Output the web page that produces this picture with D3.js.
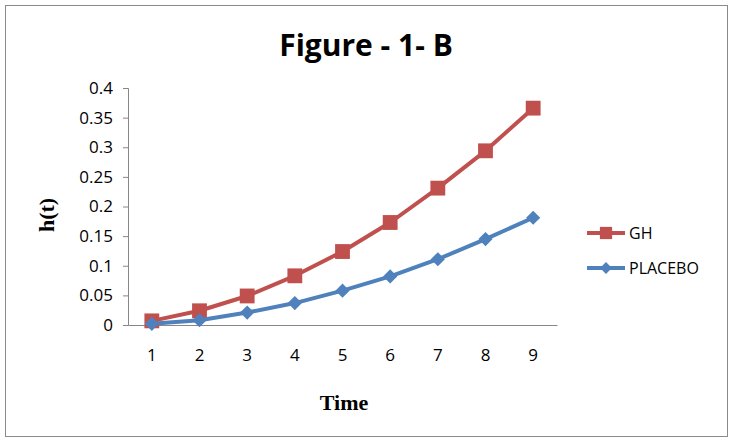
<!DOCTYPE html>
<html>
<head>
<meta charset="utf-8">
<script src="https://cdn.jsdelivr.net/npm/d3@7"></script>
<style>
  body { margin: 0; background: #fff; }
  text { font-family: "Open Sans", "Liberation Sans", sans-serif; }
</style>
</head>
<body>
<div id="chart"></div>
<script>
const categories = ["1", "2", "3", "4", "5", "6", "7", "8", "9"];
const ghValues = [0.007, 0.024, 0.049, 0.083, 0.124, 0.173, 0.231, 0.294, 0.366];
const placeboValues = [0.002, 0.008, 0.021, 0.037, 0.058, 0.082, 0.111, 0.145, 0.181];
const yTicks = [0, 0.05, 0.1, 0.15, 0.2, 0.25, 0.3, 0.35, 0.4];

const W = 733, H = 446;
const margin = { top: 88, left: 128, right: 176, bottom: 121 };
const width = W - margin.left - margin.right;
const height = H - margin.top - margin.bottom;

const series = [
  { name: "GH", values: ghValues, color: "#C0504D", shape: d3.symbolSquare, size: 220, rot: 0, legSize: 150 },
  { name: "PLACEBO", values: placeboValues, color: "#4F81BD", shape: d3.symbolSquare, size: 100, rot: 45, legSize: 70 }
];

const svg = d3.select("#chart").append("svg")
  .attr("width", W)
  .attr("height", H);

// outer frame
svg.append("rect")
  .attr("x", 5.5).attr("y", 5.5)
  .attr("width", 722).attr("height", 431)
  .attr("fill", "#fff")
  .attr("stroke", "#8a8a8a")
  .attr("stroke-width", 1);

svg.append("text")
  .attr("x", 366).attr("y", 56)
  .attr("text-anchor", "middle")
  .attr("font-size", 30)
  .attr("font-weight", "bold")
  .text("Figure - 1- B");

const g = svg.append("g")
  .attr("transform", `translate(${margin.left},${margin.top})`);

const x = d3.scaleBand().domain(categories).range([0, width]);
const y = d3.scaleLinear().domain([0, 0.4]).range([height, 0]);

// y axis
const yAxis = g.append("g")
  .call(d3.axisLeft(y).tickValues(yTicks).tickSize(5).tickPadding(10).tickFormat(d3.format("~g")));
yAxis.select(".domain").attr("stroke", "#868686");
yAxis.selectAll(".tick line").attr("stroke", "#868686");
yAxis.selectAll("text").attr("font-size", 17).attr("fill", "#000")
  .style("font-family", "'Open Sans', sans-serif");

// x axis
const xAxis = g.append("g")
  .attr("transform", `translate(0,${height})`)
  .call(d3.axisBottom(x).tickSize(0).tickPadding(24));
xAxis.select(".domain").attr("stroke", "#868686");
xAxis.selectAll("text").attr("font-size", 17).attr("fill", "#000")
  .style("font-family", "'Open Sans', sans-serif");

// axis titles
svg.append("text")
  .attr("transform", "translate(54,215) rotate(-90)")
  .attr("text-anchor", "middle")
  .attr("font-size", 22)
  .attr("font-weight", "bold")
  .style("font-family", "'Liberation Serif', 'Times New Roman', serif")
  .text("h(t)");

svg.append("text")
  .attr("x", 344).attr("y", 410)
  .attr("text-anchor", "middle")
  .attr("font-size", 22)
  .attr("font-weight", "bold")
  .style("font-family", "'Liberation Serif', 'Times New Roman', serif")
  .text("Time");

const line = d3.line()
  .x((d, i) => x(categories[i]) + x.bandwidth() / 2)
  .y(d => y(d));

series.forEach(s => {
  g.append("path")
    .datum(s.values)
    .attr("fill", "none")
    .attr("stroke", s.color)
    .attr("stroke-width", 4)
    .attr("stroke-linejoin", "round")
    .attr("d", line);

  g.selectAll(null)
    .data(s.values)
    .enter()
    .append("path")
    .attr("d", d3.symbol().type(s.shape).size(s.size))
    .attr("transform", (d, i) => `translate(${x(categories[i]) + x.bandwidth() / 2},${y(d)}) rotate(${s.rot})`)
    .attr("fill", s.color);
});

// legend
const legend = svg.append("g").attr("transform", "translate(587,233)");
series.forEach((s, i) => {
  const row = legend.append("g").attr("transform", `translate(0,${i * 35})`);
  row.append("line")
    .attr("x1", 0).attr("x2", 38)
    .attr("stroke", s.color).attr("stroke-width", 4);
  row.append("path")
    .attr("d", d3.symbol().type(s.shape).size(s.legSize))
    .attr("transform", `translate(19,0) rotate(${s.rot})`)
    .attr("fill", s.color);
  row.append("text")
    .attr("x", 42).attr("y", 6)
    .attr("font-size", 16)
    .text(s.name);
});
</script>
</body>
</html>
